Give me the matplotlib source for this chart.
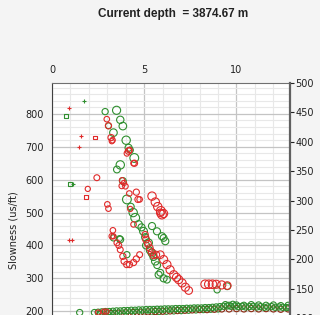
import matplotlib
matplotlib.use("Agg")
import matplotlib.pyplot as plt

# ---- data ----
title_text = "Current depth  = 3874.67 m"
y_label = "Slowness (us/ft)"
x_ticks = [0, 5, 10]
left_ticks = [200, 300, 400, 500, 600, 700, 800]
right_ticks = [100, 150, 200, 250, 300, 350, 400, 450, 500]

# green circles (frequency, slowness, marker size)
green_x = [2.88, 3.5, 3.7, 3.84, 3.06, 3.33, 4.02, 4.15, 4.24, 4.46, 3.7, 3.52,
           3.84, 4.06, 4.27, 4.4, 4.51, 4.69, 4.96, 5.23, 5.42, 5.6, 5.78, 5.87,
           6.05, 6.23, 5.42, 5.69, 5.96, 6.14, 6.05, 3.33, 3.7, 4.06, 3.66, 8.95,
           9.5, 5.1, 5.3, 5.5, 5.7, 4.85, 5.05]
green_y = [807, 811, 782, 763, 764, 743, 720, 697, 690, 666, 645, 631,
           596, 540, 518, 500, 484, 464, 443, 408, 377, 352, 311, 317,
           300, 296, 459, 443, 428, 413, 423, 423, 418, 372, 421, 265,
           276, 400, 385, 365, 340, 455, 425]
green_s = [20, 34, 28, 30, 18, 30, 36, 26, 20, 40, 36, 24,
           24, 40, 24, 36, 40, 30, 32, 32, 32, 30, 26, 24,
           26, 24, 26, 26, 26, 26, 24, 20, 24, 20, 18, 20,
           24, 26, 24, 26, 24, 26, 26]

# red circles
red_x = [2.97, 3.06, 3.2, 3.28, 3.24, 4.15, 4.2, 4.06, 4.47, 4.42, 2.43, 3.8,
         3.9, 3.78, 3.98, 1.94, 4.57, 4.19, 4.66, 4.75, 5.42, 5.6, 5.73, 5.9,
         5.96, 3.0, 3.06, 4.24, 4.42, 3.3, 3.24, 3.33, 3.52, 3.62, 3.7, 3.84,
         3.91, 4.05, 4.2, 4.42, 4.57, 4.75, 5.05, 5.1, 5.2, 5.3, 5.4, 5.5,
         5.65, 5.87, 6.05, 6.23, 6.4, 6.6, 6.75, 6.87, 7.05, 7.23, 7.41, 5.87,
         6.05, 8.3, 8.5, 8.7, 8.9, 9.2, 9.5, 2.5, 2.8, 2.95]
red_y = [784, 764, 728, 720, 717, 687, 690, 680, 650, 650, 606, 598,
         590, 581, 580, 572, 562, 558, 540, 540, 550, 532, 518, 505,
         494, 525, 512, 511, 464, 446, 428, 428, 408, 400, 387, 367,
         352, 342, 342, 348, 359, 372, 433, 418, 405, 392, 380, 370,
         372, 372, 357, 342, 326, 311, 303, 296, 286, 273, 263, 499,
         497, 282, 282, 282, 282, 280, 278, 196, 199, 199]
red_s = [16, 20, 20, 16, 14, 22, 16, 16, 20, 16, 18, 16,
         14, 16, 16, 14, 20, 16, 20, 16, 36, 36, 36, 40,
         40, 16, 16, 14, 16, 16, 16, 14, 18, 18, 18, 20,
         20, 20, 20, 20, 20, 18, 20, 24, 24, 24, 24, 24,
         24, 30, 34, 34, 34, 34, 34, 34, 34, 34, 30, 30,
         34, 38, 38, 38, 34, 34, 30, 14, 14, 14]

# low-slowness band along the bottom
band_green_x = [1.5, 2.3, 2.5, 2.7, 2.9, 3.1, 3.3, 3.5, 3.7, 3.9, 4.1, 4.3, 4.5,
                4.7, 4.9, 5.1, 5.3, 5.5, 5.7, 5.9, 6.1, 6.3, 6.5, 6.7, 6.9,
                7.1, 7.3, 7.5, 7.7, 7.9, 8.1, 8.3, 8.5, 8.7, 8.9, 9.1, 9.3,
                9.5, 9.7, 9.9, 10.1, 10.3, 10.5, 10.7, 10.9, 11.1, 11.3, 11.5,
                11.7, 11.9, 12.1, 12.3, 12.5, 12.7, 12.85]
band_green_y = [196, 196, 197, 198, 199, 199, 200, 201, 201, 202, 202, 203, 203,
                204, 204, 205, 205, 205, 206, 206, 207, 207, 207, 208, 208,
                208, 209, 209, 210, 210, 210, 211, 211, 212, 213, 214, 215,
                216, 215, 216, 214, 215, 213, 214, 215, 213, 214, 212, 213,
                214, 212, 213, 212, 211, 212]
band_green2_x = [2.6, 3.0, 3.4, 3.8, 4.2, 4.6, 5.0, 5.4, 5.8, 6.2, 6.6, 7.0,
                 7.4, 7.8, 8.2, 8.6, 9.0, 9.4, 9.6, 9.8, 10.0, 10.4, 10.8,
                 11.2, 11.6, 12.0, 12.4, 12.8]
band_green2_y = [191, 192, 193, 194, 195, 196, 197, 198, 199, 200, 201, 202,
                 203, 204, 205, 206, 207, 220, 218, 221, 219, 218, 220, 219,
                 218, 219, 217, 218]
band_red_x = [2.6, 3.2, 3.6, 4.0, 4.4, 4.8, 5.2, 5.6, 6.0, 6.4, 6.8, 7.2,
              7.6, 8.0, 8.4, 8.8, 9.2, 9.6, 10.0, 10.4, 10.8, 11.2, 11.6,
              12.0, 12.4, 12.8]
band_red_y = [192, 193, 194, 195, 196, 197, 198, 199, 200, 201, 202, 203,
              204, 205, 205, 206, 207, 207, 208, 207, 208, 207, 208, 207,
              206, 207]

# small markers at low frequency
green_sq_x = [0.76, 0.98]
green_sq_y = [794, 586]
green_plus_x = [1.75, 1.15]
green_plus_y = [840, 587]
red_plus_x = [0.94, 1.56, 1.45, 0.93, 1.08]
red_plus_y = [817, 733, 700, 416, 416]
red_sq_x = [2.34, 1.83]
red_sq_y = [728, 547]

GREEN = "#2f8f2f"
RED = "#e02a2a"
DARK_RED = "#8e2a12"


def main():
    plt.rcParams["font.family"] = "DejaVu Sans"
    fig = plt.figure(figsize=(3.2, 3.15), dpi=100)
    fig.patch.set_facecolor("#f4f4f4")

    ax = fig.add_axes([52 / 320, 1 - 377 / 315, 238 / 320, 294 / 315])
    ax.set_facecolor("white")
    ax.set_xlim(0, 12.9)
    ax.set_ylim(0, 894)

    # grid
    ax.set_xticks(range(0, 13), minor=True)
    ax.set_yticks(range(0, 900, 20), minor=True)
    ax.grid(which="minor", color="#e8e8e8", linewidth=0.8)
    ax.grid(which="major", color="#c4c4c4", linewidth=0.9)
    ax.set_axisbelow(True)

    ax.xaxis.tick_top()
    ax.set_xticks(x_ticks)
    ax.set_yticks(left_ticks)
    ax.tick_params(axis="both", which="both", length=0, labelsize=7, colors="#222222")
    ax.tick_params(axis="x", pad=6)
    ax.tick_params(axis="y", pad=6)

    # scatter
    ring = dict(facecolors="none", linewidths=0.8)
    ax.scatter(band_green2_x, band_green2_y, s=20, edgecolors=GREEN, **ring)
    ax.scatter(band_red_x, band_red_y, s=20, edgecolors=DARK_RED, **ring)
    ax.scatter(band_green_x, band_green_y, s=20, edgecolors=GREEN, **ring)
    ax.scatter(green_x, green_y, s=green_s, edgecolors=GREEN, **ring)
    ax.scatter(red_x, red_y, s=red_s, edgecolors=RED, **ring)
    ax.scatter(green_sq_x, green_sq_y, s=7, marker="s", edgecolors=GREEN, **ring)
    ax.scatter(green_plus_x, green_plus_y, s=7, marker="+", color=GREEN, linewidths=0.8)
    ax.scatter(red_plus_x, red_plus_y, s=7, marker="+", color=RED, linewidths=0.8)
    ax.scatter(red_sq_x, red_sq_y, s=7, marker="s", edgecolors=RED, **ring)

    ax.set_ylabel(y_label, fontsize=7, color="#222222", labelpad=5)

    ax.spines["bottom"].set_visible(False)
    ax.spines["left"].set_color("#404040")
    ax.spines["top"].set_color("#707070")
    ax.spines["right"].set_visible(False)

    ax2 = ax.twinx()
    ax2.set_ylim(0, 500)
    ax2.set_yticks(right_ticks)
    ax2.tick_params(axis="y", length=3, width=0.8, colors="#222222", labelsize=7, pad=1)
    ax2.spines["right"].set_color("#606060")
    ax2.spines["right"].set_linewidth(1.6)
    for side in ["left", "top", "bottom"]:
        ax2.spines[side].set_visible(False)

    fig.text(173 / 320, 1 - 14 / 315, title_text, ha="center", va="center",
             fontsize=8.5, fontweight="bold", color="#222222",
             family="Liberation Sans")

    fig.savefig("out.png", dpi=100, facecolor=fig.get_facecolor())
    plt.close(fig)


if __name__ == "__main__":
    main()
